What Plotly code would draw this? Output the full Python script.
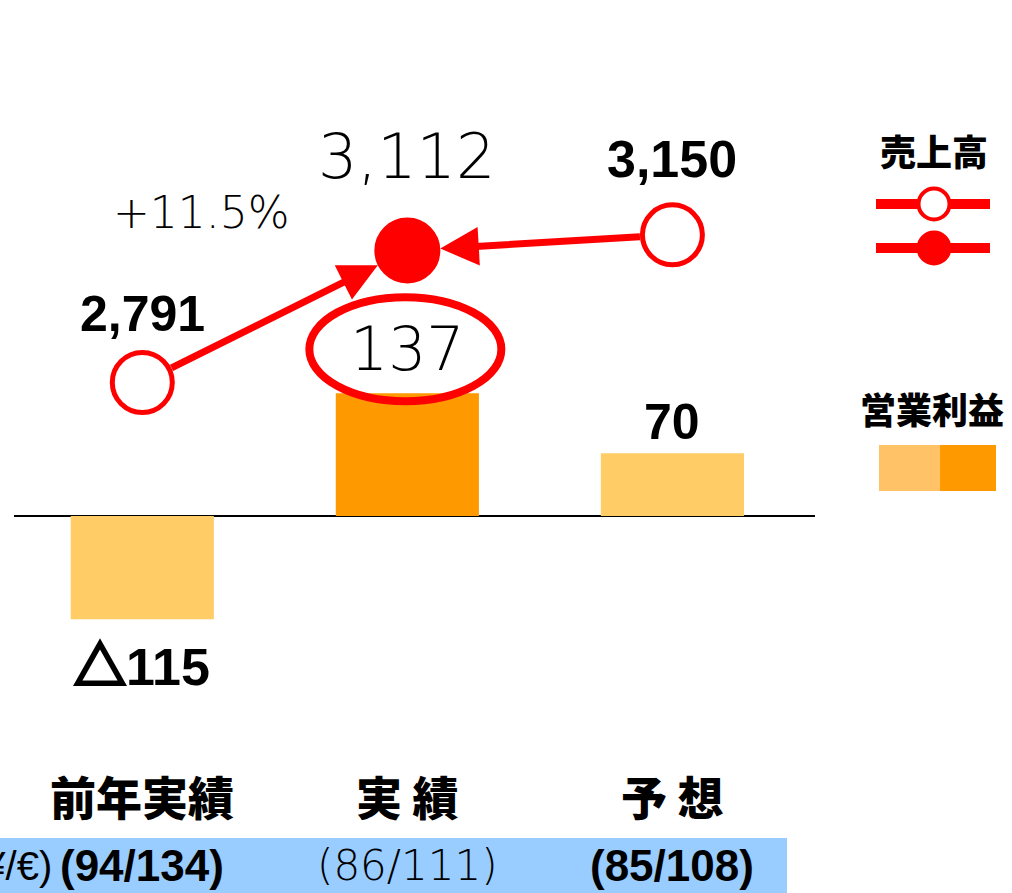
import plotly.graph_objects as go

# ---------------- data ----------------
categories = ["前年実績", "実 績", "予 想"]
sales = [2791, 3112, 3150]                 # 売上高
operating_profit = [-115, 137, 70]         # 営業利益
sales_labels = ["2,791", "3,112", "3,150"]
profit_labels = ["△115", "137", "70"]
fx_prefix = "(¥/€)"
fx_labels = ["(94/134)", "(86/111)", "(85/108)"]
growth_label = "+11.5%"
legend_sales = "売上高"
legend_profit = "営業利益"

# ---------------- styles ----------------
RED = "#FF0000"
LIGHT = "#FFCC66"
DARK = "#FF9900"
LEG_LIGHT = "#FFC266"
BAND = "#99CCFF"
bar_colors = [LIGHT, DARK, LIGHT]
marker_fill = ["white", RED, "white"]

W, H = 1012, 893
ML, MR, MT, MB = 14, 197, 100, 173
PW, PH = W - ML - MR, H - MT - MB

def xp(px):
    return (px - ML) / PW

def yp(py):
    return (H - MB - py) / PH

BOLD = "Liberation Sans, Arial, Noto Sans CJK JP, sans-serif"
LIGHTF = "DejaVu Sans, sans-serif"
CJK = "Noto Sans CJK JP, sans-serif"

def styled(label):
    # draw the triangle glyph heavier (stroked outline)
    return label.replace(
        "△", "<span style='font-family:Noto Sans CJK JP;font-weight:900;"
             "stroke:black;stroke-width:3px'>△</span>")

fig = go.Figure()
fig.add_trace(go.Bar(
    x=categories, y=operating_profit, marker=dict(color=bar_colors, line=dict(width=0)),
    width=0.54, yaxis="y", showlegend=False, hoverinfo="skip"))
fig.add_trace(go.Scatter(
    x=categories, y=sales, mode="markers", yaxis="y2", showlegend=False,
    marker=dict(size=[60, 64, 60], color=marker_fill, opacity=1,
                line=dict(color=RED, width=[5, 2, 5]))))

ann = []
shapes = []

def A(**kw):
    kw.setdefault("xanchor", "center")
    kw.setdefault("yanchor", "middle")
    kw.setdefault("showarrow", False)
    ann.append(kw)

# arrows between sales points (tail -> head)
for tail, head in [(0, 1), (2, 1)]:
    ann.append(dict(x=categories[head], y=sales[head], ax=categories[tail], ay=sales[tail],
                    xref="x", yref="y2", axref="x", ayref="y2", text="", showarrow=True,
                    arrowcolor=RED, arrowwidth=7, arrowhead=2, arrowsize=1.1,
                    standoff=33, startstandoff=31))

# sales labels
sales_shift = [69, 94, 76]
sales_fonts = [dict(family=BOLD, size=50, color="black", weight="bold"),
               dict(family=LIGHTF, size=62, color="black", weight=200),
               dict(family=BOLD, size=52, color="black", weight="bold")]
for i in range(3):
    A(x=categories[i], y=sales[i], xref="x", yref="y2", text=sales_labels[i],
      yshift=sales_shift[i], font=sales_fonts[i])

# profit labels
profit_shift = [-43, 44, 31]
profit_fonts = [dict(family=BOLD, size=52, color="black", weight="bold"),
                dict(family=LIGHTF, size=60, color="black", weight=200),
                dict(family=BOLD, size=50, color="black", weight="bold")]
for i in range(3):
    A(x=categories[i], y=operating_profit[i], xref="x", yref="y",
      text=styled(profit_labels[i]), yshift=profit_shift[i], font=profit_fonts[i])

# growth label
A(x=xp(201), y=yp(212), xref="paper", yref="paper", text=growth_label,
  font=dict(family=LIGHTF, size=44, color="black", weight=200))

# ellipse around actual profit
shapes.append(dict(type="circle", xref="x", yref="y", xsizemode="pixel", ysizemode="pixel",
                   xanchor=categories[1], yanchor=operating_profit[1],
                   x0=-98, x1=94, y0=-8, y1=96, line=dict(color=RED, width=8),
                   fillcolor="rgba(0,0,0,0)", layer="above"))

# category labels
for i in range(3):
    A(x=categories[i], y=yp(795), xref="x", yref="paper", text=categories[i],
      font=dict(family=CJK, size=46, color="black", weight=900))

# fx band
shapes.append(dict(type="rect", xref="paper", yref="paper", x0=xp(0), x1=xp(787),
                   y0=yp(H + 2), y1=yp(838), fillcolor=BAND, line=dict(width=0), layer="below"))
A(x=xp(54), y=yp(866), xref="paper", yref="paper", text=fx_prefix, xanchor="right",
  font=dict(family=BOLD, size=40, color="black"))
fx_fonts = [dict(family="Liberation Sans Narrow, " + BOLD, size=44, color="black", weight="bold"),
            dict(family=LIGHTF, size=42, color="black", weight=200),
            dict(family="Liberation Sans Narrow, " + BOLD, size=44, color="black", weight="bold")]
for i in range(3):
    A(x=categories[i], y=yp(866), xref="x", yref="paper", text=fx_labels[i], font=fx_fonts[i])

# legend
A(x=xp(934), y=yp(150), xref="paper", yref="paper", text=legend_sales,
  font=dict(family=CJK, size=36, color="black", weight=900))
A(x=xp(932), y=yp(408), xref="paper", yref="paper", text=legend_profit,
  font=dict(family=CJK, size=36, color="black", weight=900))
for py, fill in [(204, "white"), (248, RED)]:
    shapes.append(dict(type="line", xref="paper", yref="paper", x0=xp(876), x1=xp(990),
                       y0=yp(py), y1=yp(py), line=dict(color=RED, width=10)))
    shapes.append(dict(type="circle", xref="paper", yref="paper", xsizemode="pixel",
                       ysizemode="pixel", xanchor=xp(934), yanchor=yp(py),
                       x0=-15.5, x1=15.5, y0=-15.5, y1=15.5, fillcolor=fill,
                       line=dict(color=RED, width=4)))
shapes.append(dict(type="rect", xref="paper", yref="paper", x0=xp(879), x1=xp(940),
                   y0=yp(491), y1=yp(445), fillcolor=LEG_LIGHT, line=dict(width=0)))
shapes.append(dict(type="rect", xref="paper", yref="paper", x0=xp(940), x1=xp(996),
                   y0=yp(491), y1=yp(445), fillcolor=DARK, line=dict(width=0)))

fig.update_layout(
    width=W, height=H, margin=dict(l=ML, r=MR, t=MT, b=MB, pad=0),
    paper_bgcolor="white", plot_bgcolor="white", showlegend=False,
    font=dict(family=BOLD, color="black"),
    xaxis=dict(type="category", range=[-0.484, 2.538], showticklabels=False, showgrid=False,
               zeroline=False, showline=False, ticks=""),
    yaxis=dict(range=[-227.4, 463.8], showticklabels=False, showgrid=False, zeroline=True,
               zerolinecolor="black", zerolinewidth=1.5, showline=False, ticks=""),
    yaxis2=dict(range=[1970.8, 3477.8], overlaying="y", showticklabels=False, showgrid=False,
                zeroline=False, showline=False, ticks=""),
    annotations=ann, shapes=shapes,
)

fig.write_html("out.html", config={"displayModeBar": False},
               post_script="document.body.style.margin='0';")
